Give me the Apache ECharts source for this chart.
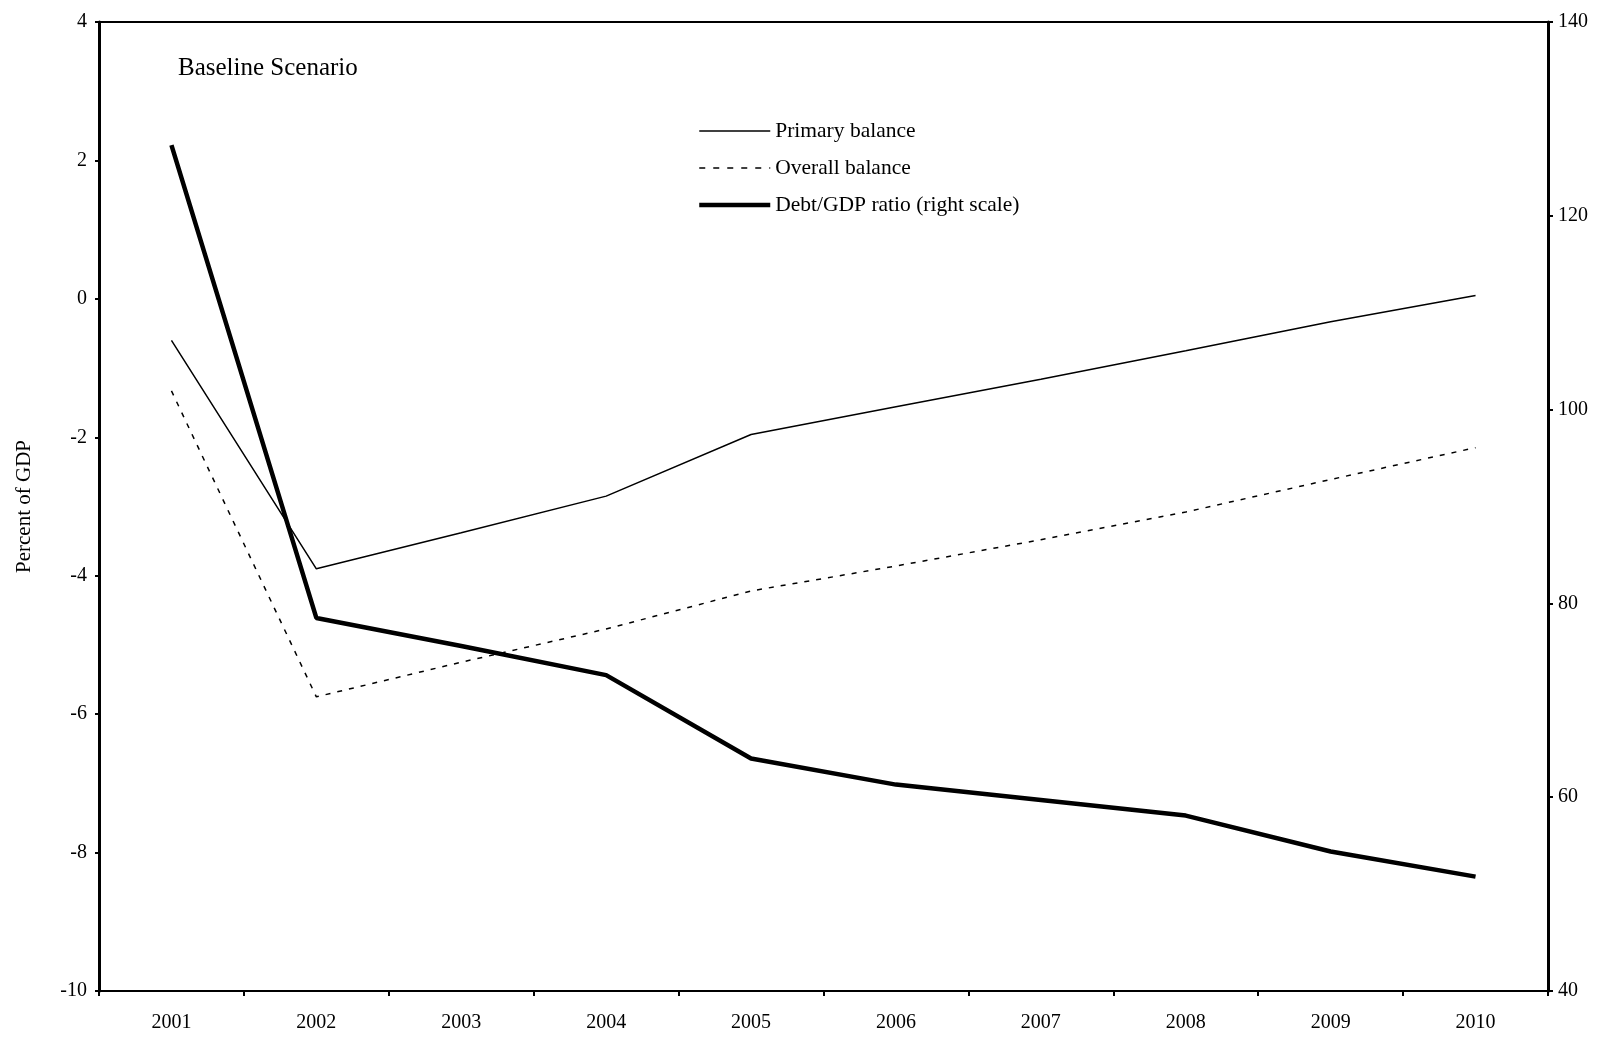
<!DOCTYPE html>
<html>
<head>
<meta charset="utf-8">
<script src="https://cdn.jsdelivr.net/npm/echarts@6/dist/echarts.min.js"></script>
<style>html,body{margin:0;padding:0;background:#fff}#c{width:1606px;height:1038px}</style>
</head>
<body>
<div id="c"></div>
<script>
const years = ['2001','2002','2003','2004','2005','2006','2007','2008','2009','2010'];
const primaryBalance = [-0.6, -3.9, -3.38, -2.85, -1.96, -1.56, -1.16, -0.75, -0.33, 0.05];
const overallBalance = [-1.33, -5.75, -5.25, -4.77, -4.22, -3.86, -3.48, -3.08, -2.61, -2.15];
const debtRatio = [127.3, 78.5, 75.6, 72.6, 64.0, 61.3, 59.7, 58.1, 54.4, 51.8];
const seriesNames = ['Primary balance', 'Overall balance', 'Debt/GDP ratio (right scale)'];

const font = 'Liberation Serif, Times New Roman, serif';
const chart = echarts.init(document.getElementById('c'));
chart.setOption({
  animation: false,
  backgroundColor: '#fff',
  textStyle: { fontFamily: font, color: '#000' },
  grid: { left: 99, right: 58, top: 22, bottom: 47, show: true, borderColor: '#000', borderWidth: 2, containLabel: false },
  title: {
    text: 'Baseline Scenario', left: 173, top: 51,
    textStyle: { fontFamily: font, fontSize: 25, fontWeight: 'normal', color: '#000' }
  },
  legend: {
    orient: 'vertical', left: 692, top: 115,
    itemWidth: 71, itemHeight: 14, itemGap: 15,
    itemStyle: { opacity: 0 },
    textStyle: { fontFamily: font, fontSize: 21.5, color: '#000' },
    data: [
      { name: seriesNames[0], lineStyle: { width: 1.5 } },
      { name: seriesNames[1], lineStyle: { width: 1.5, type: [6, 8] } },
      { name: seriesNames[2], lineStyle: { width: 4.5 } }
    ]
  },
  xAxis: {
    type: 'category', data: years, boundaryGap: true,
    axisLine: { onZero: false, lineStyle: { color: '#000', width: 2 } },
    axisTick: { show: true, length: 5, lineStyle: { color: '#000', width: 2 } },
    axisLabel: { fontFamily: font, fontSize: 20, color: '#000', margin: 22 },
    splitLine: { show: false }
  },
  yAxis: [
    {
      type: 'value', min: -10, max: 4, interval: 2,
      name: 'Percent of GDP', nameLocation: 'middle', nameGap: 64, nameRotate: 90,
      nameTextStyle: { fontFamily: font, fontSize: 21, color: '#000' },
      axisLine: { show: true, lineStyle: { color: '#000', width: 3 } },
      axisTick: { show: true, length: 4, lineStyle: { color: '#000', width: 2 } },
      axisLabel: { fontFamily: font, fontSize: 20, color: '#000', margin: 12 },
      splitLine: { show: false }
    },
    {
      type: 'value', min: 40, max: 140, interval: 20, position: 'right',
      axisLine: { show: true, lineStyle: { color: '#000', width: 3 } },
      axisTick: { show: true, length: 5, lineStyle: { color: '#000', width: 2 } },
      axisLabel: { fontFamily: font, fontSize: 20, color: '#000', margin: 10 },
      splitLine: { show: false }
    }
  ],
  series: [
    { name: seriesNames[0], type: 'line', data: primaryBalance, symbol: 'none', yAxisIndex: 0,
      lineStyle: { color: '#000', width: 1.5 }, itemStyle: { color: '#000' } },
    { name: seriesNames[1], type: 'line', data: overallBalance, symbol: 'none', yAxisIndex: 0,
      lineStyle: { color: '#000', width: 1.5, type: [5, 7] }, itemStyle: { color: '#000' } },
    { name: seriesNames[2], type: 'line', data: debtRatio, symbol: 'none', yAxisIndex: 1,
      lineStyle: { color: '#000', width: 4.5 }, itemStyle: { color: '#000' } }
  ]
});
</script>
</body>
</html>
